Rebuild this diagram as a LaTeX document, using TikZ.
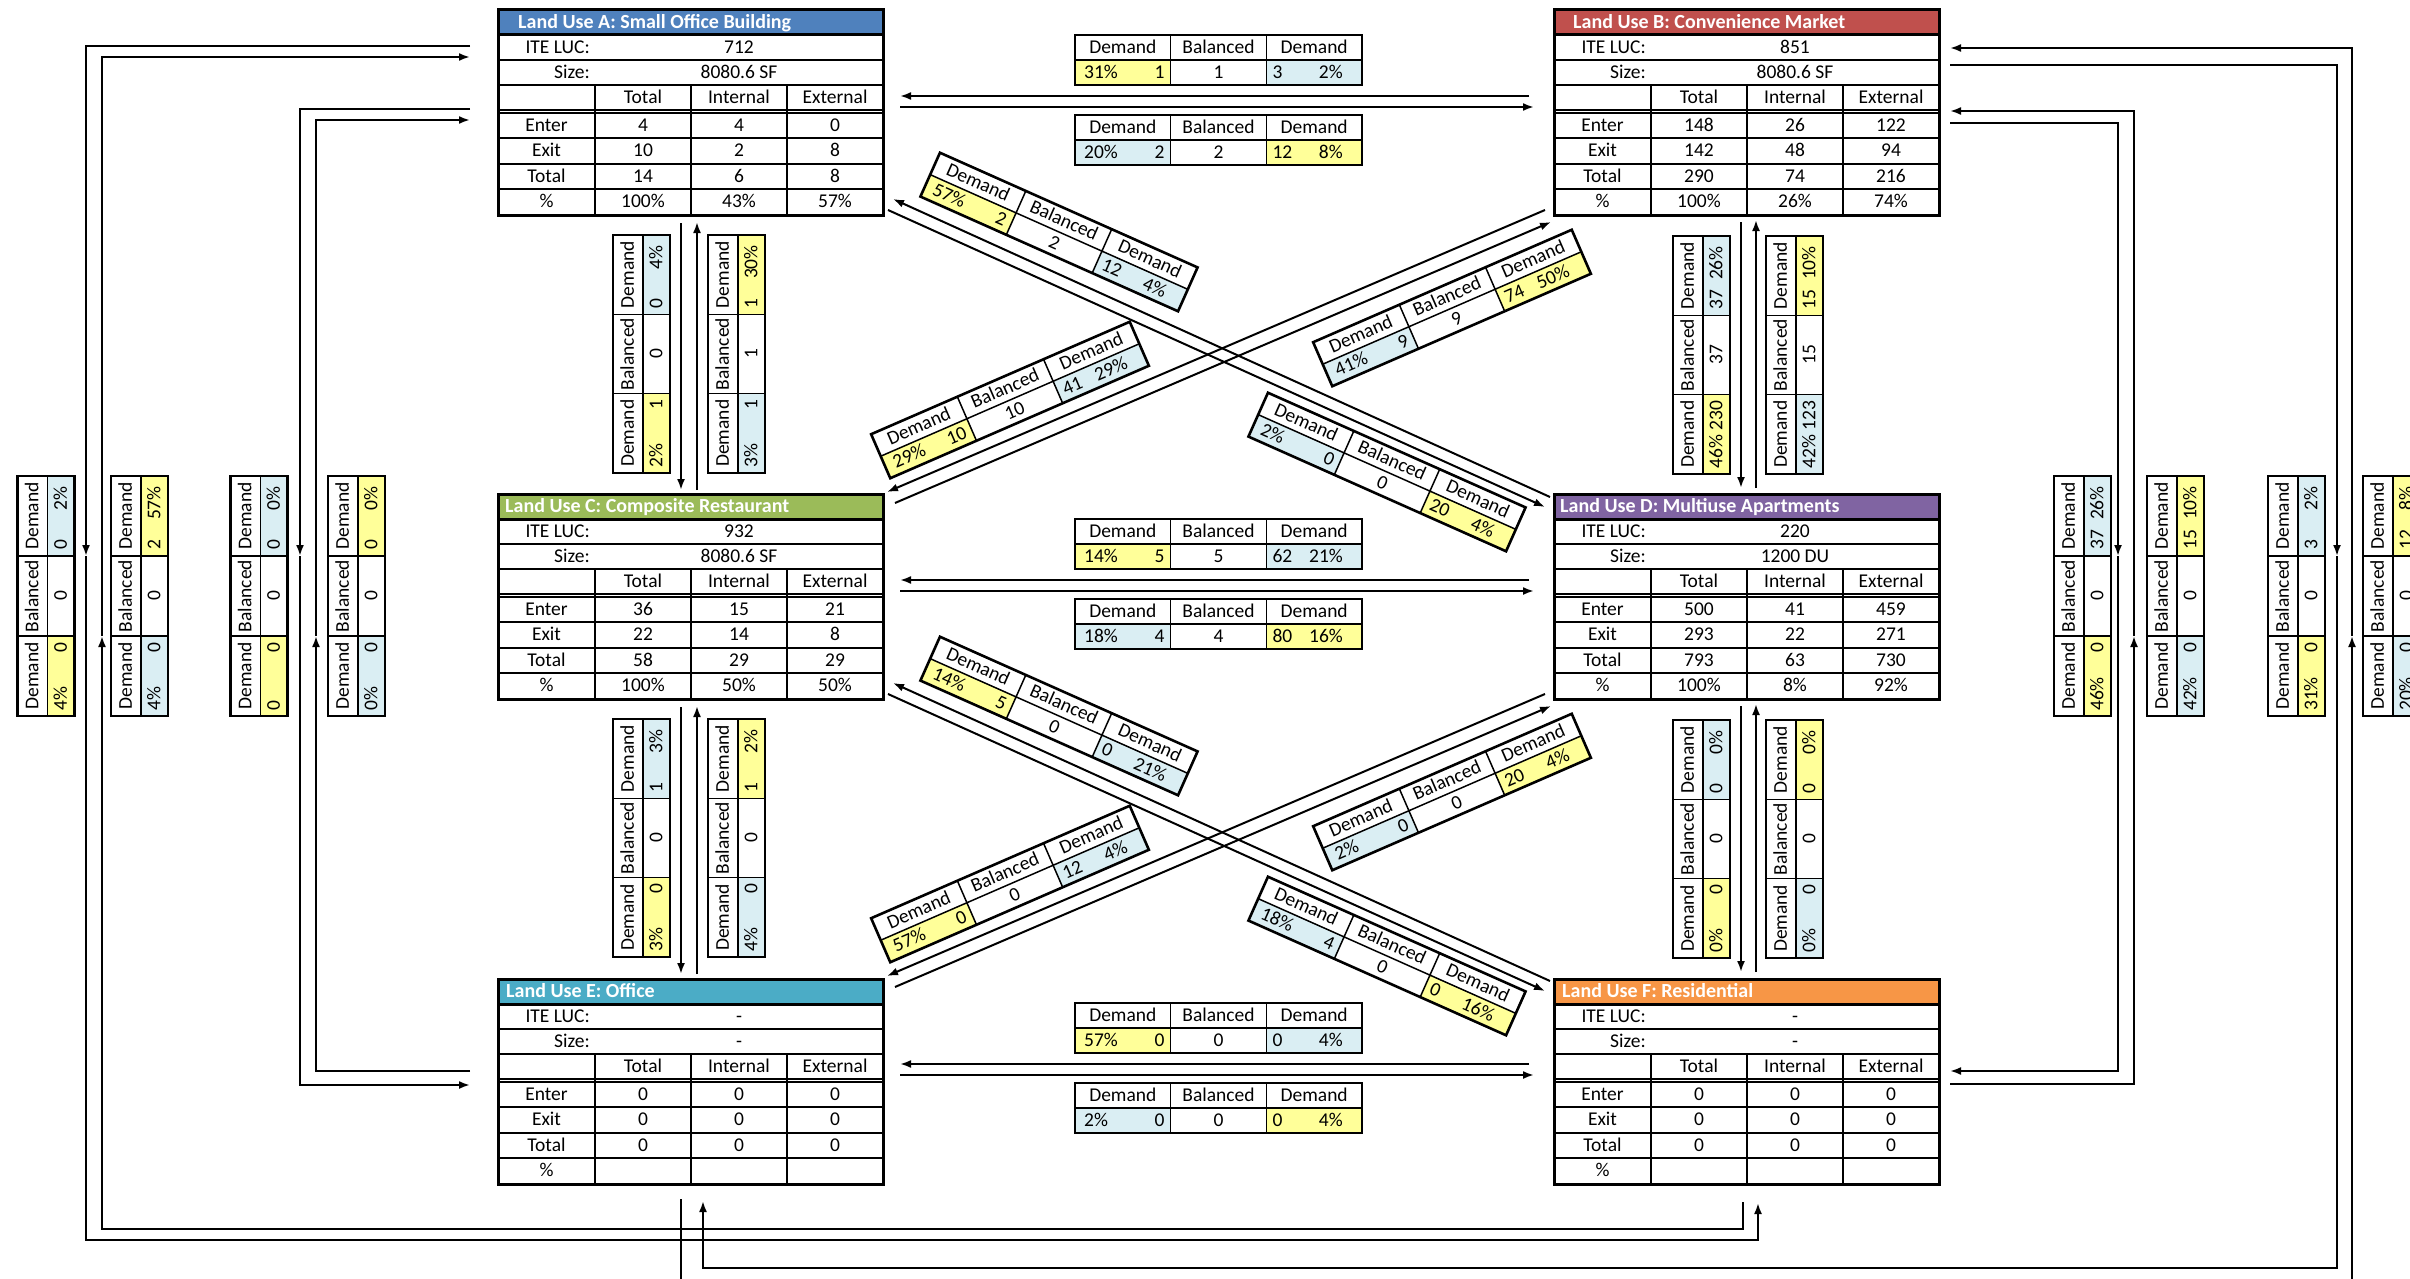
\documentclass[tikz,border=0pt]{standalone}
\usepackage{fontspec}
\setmainfont{Carlito}
\usetikzlibrary{arrows.meta,calc}
\definecolor{cA}{HTML}{4F81BD}
\definecolor{cB}{HTML}{C0504D}
\definecolor{cC}{HTML}{9BBB59}
\definecolor{cD}{HTML}{8064A2}
\definecolor{cE}{HTML}{4BACC6}
\definecolor{cF}{HTML}{F79646}
\definecolor{yel}{HTML}{FFFF99}
\definecolor{blu}{HTML}{DAEEF3}
\tikzset{
  every node/.style={inner sep=0pt},
  txt/.style={font=\fontsize{19.5}{21}\selectfont, text height=13.5pt, text depth=2pt},
  conn/.style={line width=2pt},
  arr/.style={conn, -{Latex[length=11pt,width=8pt]}},
  cellline/.style={line width=1.5pt},
  boxline/.style={line width=2.6pt},
  thinline/.style={line width=1.4pt},
  thickline/.style={line width=3pt},
}
\newcommand\lutable[8]{%
  \begin{scope}[shift={(#2,#3)}]
    \fill[#4] (0,0) rectangle (385,25);
    \node[txt, anchor=west, text=white, font=\fontsize{20}{22}\selectfont\bfseries] (#1-title) at (#6,12.5) {#5};
    \draw[thinline] (0,50) -- (385,50) (0,75) -- (385,75);
    \draw[thinline] (193,75) -- (193,205) (289,75) -- (289,205);
    \draw[thinline] (0,128) -- (385,128) (0,154) -- (385,154) (0,179) -- (385,179);
    \draw[line width=2.2pt] (97,75) -- (97,205);
    \draw[thinline] (0,100) -- (385,100) (0,103) -- (385,103);
    \draw[thickline] (0,25) -- (385,25);
    \draw[thickline] (0,0) rectangle (385,205);
    \node[txt, anchor=east] (#1-luclab) at (92,37.5) {ITE LUC:};
    \node[txt] (#1-luc) at (241,37.5) {#7};
    \node[txt, anchor=east] (#1-sizelab) at (92,62.5) {Size:};
    \node[txt] (#1-size) at (241,62.5) {#8};
    \node[txt] (#1-h1) at (145,88) {Total};
    \node[txt] (#1-h2) at (241,88) {Internal};
    \node[txt] (#1-h3) at (337,88) {External};
  \end{scope}}
\newcommand\lurows[7]{%
  \begin{scope}[shift={(#2,#3)}]
    \node[txt] (#1-r1) at (48.5,115.5) {Enter};
    \node[txt] (#1-r2) at (48.5,141) {Exit};
    \node[txt] (#1-r3) at (48.5,166.5) {Total};
    \node[txt] (#1-r4) at (48.5,192) {\%};
    \foreach \v [count=\i] in {#4} {\node[txt, name=#1-e\i] at ({49+96*\i},115.5) {\v};}
    \foreach \v [count=\i] in {#5} {\node[txt, name=#1-x\i] at ({49+96*\i},141) {\v};}
    \foreach \v [count=\i] in {#6} {\node[txt, name=#1-t\i] at ({49+96*\i},166.5) {\v};}
    \foreach \v [count=\i] in {#7} {\node[txt, name=#1-p\i] at ({49+96*\i},192) {\v};}
  \end{scope}}
\newcommand\dkind[5]{\def\dW{#1}\def\dHa{#2}\def\dHb{#3}\def\dPadA{#4}\def\dPadB{#5}}
\def\yelname{yel}
\newcommand\dbox[9]{%
  \def\lcol{#4}%
  \ifx\lcol\yelname\def\rcol{blu}\else\def\rcol{yel}\fi
  \pgfmathsetmacro\xa{-1.5*\dW}\pgfmathsetmacro\xb{-0.5*\dW}%
  \pgfmathsetmacro\xc{0.5*\dW}\pgfmathsetmacro\xd{1.5*\dW}%
  \pgfmathsetmacro\ya{-(\dHa+\dHb)/2}\pgfmathsetmacro\yb{\ya+\dHa}%
  \pgfmathsetmacro\yc{(\dHa+\dHb)/2}%
  \pgfmathsetmacro\ym{(\yb+\yc)/2}\pgfmathsetmacro\yl{(\ya+\yb)/2}%
  \pgfmathsetmacro\xl{(\xa+\xb)/2}\pgfmathsetmacro\xr{(\xc+\xd)/2}%
  \pgfmathsetmacro\xlp{\xa+\dPadA}\pgfmathsetmacro\xln{\xb-6}%
  \pgfmathsetmacro\xrn{\xc+6}\pgfmathsetmacro\xrp{\xd-\dPadB}%
  \begin{scope}[shift={(#2)}, rotate=#3, transform shape]
    \fill[\lcol] (\xa,\yb) rectangle (\xb,\yc);
    \fill[\rcol] (\xc,\yb) rectangle (\xd,\yc);
    \draw[cellline] (\xa,\yb) -- (\xd,\yb) (\xb,\ya) -- (\xb,\yc) (\xc,\ya) -- (\xc,\yc);
    \draw[boxline] (\xa,\ya) rectangle (\xd,\yc);
    \node[txt] (#1-l1) at (\xl,\yl) {Demand};
    \node[txt] (#1-l2) at (0,\yl) {Balanced};
    \node[txt] (#1-l3) at (\xr,\yl) {Demand};
    \node[txt, anchor=west] (#1-lp) at (\xlp,\ym) {#5};
    \node[txt, anchor=east] (#1-ln) at (\xln,\ym) {#6};
    \node[txt] (#1-b) at (0,\ym) {#7};
    \node[txt, anchor=west] (#1-rn) at (\xrn,\ym) {#8};
    \node[txt, anchor=east] (#1-rp) at (\xrp,\ym) {#9};
  \end{scope}}
\begin{document}
\begin{tikzpicture}[x=1pt, y=-1pt]
\useasboundingbox (0,0) rectangle (2410,1279);
\fill[white] (0,0) rectangle (2410,1279);

% ---------- tables ----------
\lutable{A}{498}{10}{cA}{Land Use A: Small Office Building}{20}{712}{8080.6 SF}
\lurows{A}{498}{10}{4,4,0}{10,2,8}{14,6,8}{100\%,43\%,57\%}
\lutable{B}{1554}{10}{cB}{Land Use B: Convenience Market}{19}{851}{8080.6 SF}
\lurows{B}{1554}{10}{148,26,122}{142,48,94}{290,74,216}{100\%,26\%,74\%}
\lutable{C}{498}{494}{cC}{Land Use C: Composite Restaurant}{7}{932}{8080.6 SF}
\lurows{C}{498}{494}{36,15,21}{22,14,8}{58,29,29}{100\%,50\%,50\%}
\lutable{D}{1554}{494}{cD}{Land Use D: Multiuse Apartments}{6}{220}{1200 DU}
\lurows{D}{1554}{494}{500,41,459}{293,22,271}{793,63,730}{100\%,8\%,92\%}
\lutable{E}{498}{979}{cE}{Land Use E: Office}{8}{-}{-}
\lurows{E}{498}{979}{0,0,0}{0,0,0}{0,0,0}{{},{},{}}
\lutable{F}{1554}{979}{cF}{Land Use F: Residential}{8}{-}{-}
\lurows{F}{1554}{979}{0,0,0}{0,0,0}{0,0,0}{{},{},{}}

% ---------- horizontal demand boxes ----------
\dkind{95.67}{25}{25}{9}{19}
\dbox{hAB1}{1218.5,60}{0}{yel}{31\%}{1}{1}{3}{2\%}
\dbox{hAB2}{1218.5,140}{0}{blu}{20\%}{2}{2}{12}{8\%}
\dbox{hCD1}{1218.5,544}{0}{yel}{14\%}{5}{5}{62}{21\%}
\dbox{hCD2}{1218.5,624}{0}{blu}{18\%}{4}{4}{80}{16\%}
\dbox{hEF1}{1218.5,1028}{0}{yel}{57\%}{0}{0}{0}{4\%}
\dbox{hEF2}{1218.5,1108}{0}{blu}{2\%}{0}{0}{0}{4\%}

% ---------- vertical demand boxes ----------
\dkind{79.3}{30}{27}{5}{10}
\dbox{vAC1}{641.5,354}{90}{yel}{2\%}{1}{0}{0}{4\%}
\dbox{vAC2}{736.5,354}{90}{blu}{3\%}{1}{1}{1}{30\%}
\dbox{vBD1}{1701.5,355}{90}{yel}{46\%}{230}{37}{37}{26\%}
\dbox{vBD2}{1794.5,355}{90}{blu}{42\%}{123}{15}{15}{10\%}
\dbox{vCE1}{641.5,838}{90}{yel}{3\%}{0}{0}{1}{3\%}
\dbox{vCE2}{736.5,838}{90}{blu}{4\%}{0}{0}{1}{2\%}
\dbox{vDF1}{1701.5,839}{90}{yel}{0\%}{0}{0}{0}{0\%}
\dbox{vDF2}{1794.5,839}{90}{blu}{0\%}{0}{0}{0}{0\%}

% ---------- side demand boxes ----------
\dkind{80}{30}{27}{5}{10}
\dbox{sL1}{46,596}{90}{yel}{4\%}{0}{0}{0}{2\%}
\dbox{sL2}{139.5,596}{90}{blu}{4\%}{0}{0}{2}{57\%}
\dbox{sL3}{259,596}{90}{yel}{0}{0}{0}{0}{0\%}
\dbox{sL4}{356.5,596}{90}{blu}{0\%}{0}{0}{0}{0\%}
\dbox{sR1}{2082.5,596}{90}{yel}{46\%}{0}{0}{37}{26\%}
\dbox{sR2}{2175.5,596}{90}{blu}{42\%}{0}{0}{15}{10\%}
\dbox{sR3}{2296.5,596}{90}{yel}{31\%}{0}{0}{3}{2\%}
\dbox{sR4}{2391.5,596}{90}{blu}{20\%}{0}{0}{12}{8\%}

% ---------- diagonal demand boxes ----------
\dkind{94}{24}{24}{9}{19}
\dbox{dAD1}{1059,232}{-24}{yel}{57\%}{2}{2}{12}{4\%}
\dbox{dCB1}{1010,400}{23.5}{yel}{29\%}{10}{10}{41}{29\%}
\dbox{dCB2}{1452,308}{23.5}{blu}{41\%}{9}{9}{74}{50\%}
\dbox{dAD2}{1387,472}{-24}{blu}{2\%}{0}{0}{20}{4\%}
\dbox{dCF1}{1059,716}{-24}{yel}{14\%}{5}{0}{0}{21\%}
\dbox{dED1}{1010,884}{23.5}{yel}{57\%}{0}{0}{12}{4\%}
\dbox{dED2}{1452,792}{23.5}{blu}{2\%}{0}{0}{20}{4\%}
\dbox{dCF2}{1387,956}{-24}{blu}{18\%}{4}{0}{0}{16\%}

% ---------- connector end points ----------
\foreach \n/\y in {ab/0, cd/484, ef/968} {
  \coordinate (\n1s) at (1529,96+\y); \coordinate (\n1e) at (900,96+\y);
  \coordinate (\n2s) at (900,107+\y); \coordinate (\n2e) at (1534,107+\y);
}
\foreach \n/\y in {ac/0, ce/484} {
  \coordinate (\n1s) at (681,223+\y); \coordinate (\n1e) at (681,490+\y);
  \coordinate (\n2s) at (697,490+\y); \coordinate (\n2e) at (697,222+\y);
}
\foreach \n/\y in {bd/0, df/484} {
  \coordinate (\n1s) at (1741,222+\y); \coordinate (\n1e) at (1741,488+\y);
  \coordinate (\n2s) at (1756,488+\y); \coordinate (\n2e) at (1756,220+\y);
}
\foreach \n/\y in {ad/0, cf/484} {
  \coordinate (\n1s) at (1550,497+\y); \coordinate (\n1e) at (893,199+\y);
  \coordinate (\n2s) at (888,210+\y); \coordinate (\n2e) at (1545,507+\y);
}
\foreach \n/\y in {cb/0, ed/484} {
  \coordinate (\n1s) at (1545,210+\y); \coordinate (\n1e) at (887,492+\y);
  \coordinate (\n2s) at (895,503+\y); \coordinate (\n2e) at (1551,222+\y);
}
\foreach \n in {ab,cd,ef,ac,ce,bd,df,ad,cf,cb,ed} {
  \draw[arr] (\n1s) -- (\n1e);
  \draw[arr] (\n2s) -- (\n2e);
}

% ---------- long loops ----------
% A -> F (outer) and F -> A (inner)
\coordinate (af0) at (470,46);  \coordinate (af1) at (86,46);  \coordinate (afm) at (86,556);
\coordinate (af2) at (86,1240); \coordinate (af3) at (1758,1240); \coordinate (af4) at (1758,1203);
\draw[arr] (af0) -- (af1) -- (afm);
\draw[arr] (afm) -- (af2) -- (af3) -- (af4);
\coordinate (fa0) at (1743,1202); \coordinate (fa1) at (1743,1229); \coordinate (fa2) at (102,1229);
\coordinate (fam) at (102,636); \coordinate (fa3) at (102,57); \coordinate (fa4) at (470,57);
\draw[arr] (fa0) -- (fa1) -- (fa2) -- (fam);
\draw[arr] (fam) -- (fa3) -- (fa4);
% A -> E and E -> A
\coordinate (ae0) at (470,109); \coordinate (ae1) at (300,109); \coordinate (aem) at (300,556);
\coordinate (ae2) at (300,1085); \coordinate (ae3) at (470,1085);
\draw[arr] (ae0) -- (ae1) -- (aem);
\draw[arr] (aem) -- (ae2) -- (ae3);
\coordinate (ea0) at (470,1071); \coordinate (ea1) at (316,1071); \coordinate (eam) at (316,636);
\coordinate (ea2) at (316,120); \coordinate (ea3) at (470,120);
\draw[arr] (ea0) -- (ea1) -- (eam);
\draw[arr] (eam) -- (ea2) -- (ea3);
% B -> F and F -> B
\coordinate (bf0) at (1950,123); \coordinate (bf1) at (2118,123); \coordinate (bfm) at (2118,556);
\coordinate (bf2) at (2118,1071); \coordinate (bf3) at (1950,1071);
\draw[arr] (bf0) -- (bf1) -- (bfm);
\draw[arr] (bfm) -- (bf2) -- (bf3);
\coordinate (fb0) at (1950,1084); \coordinate (fb1) at (2134,1084); \coordinate (fbm) at (2134,636);
\coordinate (fb2) at (2134,111); \coordinate (fb3) at (1950,111);
\draw[arr] (fb0) -- (fb1) -- (fbm);
\draw[arr] (fbm) -- (fb2) -- (fb3);
% B -> E and E -> B
\coordinate (be0) at (1950,65); \coordinate (be1) at (2337,65); \coordinate (bem) at (2337,556);
\coordinate (be2) at (2337,1268); \coordinate (be3) at (703,1268); \coordinate (be4) at (703,1201);
\draw[arr] (be0) -- (be1) -- (bem);
\draw[arr] (bem) -- (be2) -- (be3) -- (be4);
\coordinate (eb0) at (681,1199); \coordinate (eb1) at (681,1300); \coordinate (eb2) at (2352,1300);
\coordinate (ebm) at (2352,636); \coordinate (eb3) at (2352,48); \coordinate (eb4) at (1950,48);
\draw[arr] (eb0) -- (eb1) -- (eb2) -- (ebm);
\draw[arr] (ebm) -- (eb3) -- (eb4);
\end{tikzpicture}
\end{document}
